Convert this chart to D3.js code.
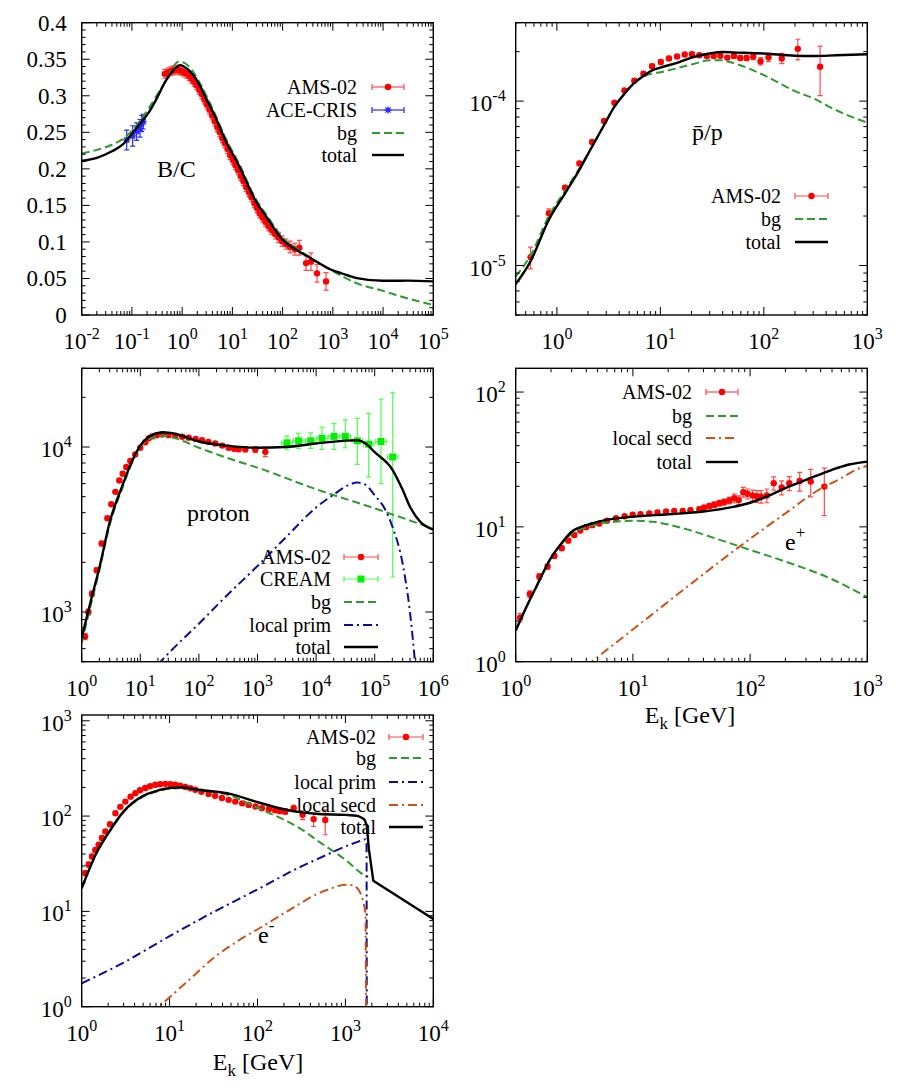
<!DOCTYPE html>
<html><head><meta charset="utf-8">
<script src="https://cdn.jsdelivr.net/npm/d3@7"></script>
<style>body{margin:0;background:#fff}text{font-family:"Liberation Serif","Times New Roman",Times,serif;fill:#000}</style>
</head><body><script>
// ---------------- DATA ----------------
// Panel 1: B/C
const bcXTicks = [1e-2,1e-1,1,10,100,1e3,1e4,1e5];
const bcYTicks = [0,0.05,0.1,0.15,0.2,0.25,0.3,0.35,0.4];
const bcYLabels = ["0","0.05","0.1","0.15","0.2","0.25","0.3","0.35","0.4"];
const bcAms = [[0.45,.330,.006],[0.52,.332,.006],[0.6,.334,.006],[0.68,.335,.006],[0.77,.336,.006],[0.87,.335,.006],[0.98,.334,.006],[1.1,.332,.006],[1.23,.330,.006],[1.38,.327,.006],[1.55,.323,.006],[1.74,.319,.006],[1.95,.314,.006],[2.2,.308,.006],[2.47,.302,.006],[2.77,.295,.006],[3.1,.288,.006],[3.5,.281,.006],[3.95,.273,.006],[4.45,.265,.006],[5.0,.257,.006],[5.6,.25,.006],[6.3,.242,.006],[7.1,.235,.006],[8.0,.227,.006],[9.0,.219,.006],[10.2,.212,.006],[11.5,.205,.006],[13,.198,.006],[14.7,.19,.006],[16.6,.183,.006],[18.8,.175,.006],[21.3,.168,.006],[24,.161,.006],[27.5,.153,.006],[31,.146,.006],[35,.139,.006],[40,.133,.006],[46,.127,.006],[53,.121,.006],[61,.116,.006],[71,.111,.007],[83,.106,.007],[98,.101,.007],[117,.097,.007],[141,.093,.008],[175,.09,.008],[215,.092,.01],[293,.071,.01],[367,.073,.012],[484,.057,.012],[733,.046,.012]];
const bcAce = [[0.0787,.2395,.0135],[0.1035,.245,.014],[0.124,.251,.012],[0.145,.2555,.012],[0.156,.262,.011],[0.168,.2645,.01]];
const bcBg = [[0.01,.221],[0.02,.226],[0.04,.233],[0.064,.2404],[0.117,.2577],[0.216,.283],[0.46,.319],[0.85,.3466],[1.1,.345],[1.57,.335],[2.48,.312],[4.57,.274],[7.2,.243],[13.4,.208],[28.6,.16],[50,.135],[97,.107],[200,.09],[300,.082],[500,.072],[1000,.06],[3000,.0434],[1e4,.033],[3e4,.023],[1e5,.0137]];
const bcTotal = [[0.01,.2107],[0.02,.215],[0.04,.224],[0.065,.233],[0.1,.248],[0.15,.263],[0.22,.278],[0.3,.294],[0.45,.318],[0.65,.334],[0.92,.342],[1.3,.336],[2.13,.317],[3,.296],[4.57,.271],[7.2,.2395],[13.4,.205],[28.6,.157],[50,.132],[97,.104],[200,.088],[300,.081],[500,.072],[1000,.061],[1500,.057],[3000,.0505],[1e4,.0468],[3e4,.047],[1e5,.046]];

// Panel 2: pbar/p
const pbXTicks = [1,10,100,1000];
const pbYTicks = [1e-5,1e-4];
const pbAms = [[0.556,1.125e-5,0.17e-5],[0.837,2.08e-5,0.13e-5],[1.2,2.97e-5,0.1e-5],[1.65,4.18e-5,0.12e-5],[2.19,5.65e-5,0.15e-5],[2.86,7.57e-5,0.2e-5],[3.6,9.78e-5,0.25e-5],[4.5,1.16e-4,0.3e-5],[5.61,1.33e-4,0.35e-5],[6.86,1.47e-4,0.4e-5],[8.32,1.63e-4,0.5e-5],[10.1,1.73e-4,0.5e-5],[12.1,1.82e-4,0.5e-5],[14.5,1.87e-4,0.5e-5],[17.2,1.92e-4,0.5e-5],[20.2,1.93e-4,0.5e-5],[23.8,1.90e-4,0.5e-5],[28.1,1.88e-4,0.5e-5],[32.8,1.88e-4,0.5e-5],[38,1.89e-4,0.5e-5],[44.4,1.84e-4,0.5e-5],[51.4,1.88e-4,0.6e-5],[59.2,1.83e-4,0.6e-5],[68.2,1.83e-4,0.7e-5],[79,1.87e-4,0.8e-5],[93,1.75e-4,0.9e-5],[111,1.85e-4,1.1e-5],[149,1.82e-4,1.3e-5],[213,2.08e-4,3e-5],[350,1.62e-4,5.4e-5]];
const pbBg = [[0.4,8.6e-6],[0.556,1.15e-5],[0.837,2.0e-5],[1.2,2.85e-5],[1.65,3.9e-5],[2.19,5.3e-5],[2.86,7.16e-5],[3.6,9.25e-5],[4.5,1.11e-4],[5.6,1.29e-4],[6.86,1.41e-4],[8.3,1.47e-4],[10,1.5e-4],[20,1.67e-4],[30,1.77e-4],[40,1.77e-4],[50,1.71e-4],[100,1.44e-4],[200,1.15e-4],[300,1.04e-4],[500,8.8e-5],[1000,7.39e-5]];
const pbTotal = [[0.4,7.7e-6],[0.556,1.06e-5],[0.837,1.9e-5],[1.2,2.75e-5],[1.65,3.82e-5],[2.19,5.3e-5],[2.86,7.16e-5],[3.6,9.25e-5],[4.5,1.11e-4],[5.6,1.29e-4],[6.86,1.42e-4],[8.3,1.54e-4],[10,1.6e-4],[15,1.72e-4],[20,1.84e-4],[30,1.95e-4],[40,1.99e-4],[50,1.98e-4],[100,1.95e-4],[200,1.89e-4],[300,1.88e-4],[500,1.9e-4],[1000,1.93e-4]];

// Panel 3: proton
const prXTicks = [1,10,100,1e3,1e4,1e5,1e6];
const prYTicks = [1e3,1e4];
const prAms = [[1.14,711,30],[1.3,1000,40],[1.5,1290,50],[1.8,1790,60],[2.19,2600,80],[2.74,3700,100],[3.2,4500,110],[3.75,5350,120],[4.38,6270,130],[5.0,6880,140],[5.77,7560,150],[6.76,8220,160],[8.2,9020,170],[10,9900,180],[12.2,10700,180],[14,11300,180],[16,11600,180],[19,11800,180],[23.5,11900,180],[30,11800,180],[39.6,11700,180],[52,11550,180],[67,11400,180],[88,11200,180],[113,11000,180],[145,10750,180],[190,10500,200],[250,10200,220],[322,9900,250],[400,9750,280],[477,9700,300],[620,9700,350],[917,9670,400],[1360,9350,600]];
const prCream = [[3180,10600,9700,11700],[5040,10900,9800,12100],[8090,10900,9800,12200],[12600,11300,9670,13200],[20200,11600,9670,13900],[31500,11600,9900,14600],[50500,10900,7850,14900],[79000,10400,6600,16000],[128000,10800,6000,19500],[203000,8700,1630,21300]];
const prCreamXerr = 0.09; // half-width of CREAM energy bins in log10
const prBg = [[1,650],[1.5,1180],[2,1780],[3,3350],[5,5700],[7,7800],[10,10000],[15,11300],[25,11700],[40,11300],[100,9900],[300,8600],[1000,7500],[1e4,5550],[1e5,4250],[1e6,3200]];
const prPrim = [[20,480],[30,560],[100,850],[300,1260],[1000,1900],[3000,2820],[1e4,4300],[2e4,5150],[3.5e4,5850],[5e4,6100],[7e4,5900],[1e5,5100],[1.5e5,4200],[2e5,3300],[3e5,1960],[4e5,1000],[5e5,450]];
const prTotal = [[1,700],[1.5,1250],[2,1850],[3,3500],[5,5900],[7,8000],[10,10200],[15,11700],[25,12300],[40,12000],[100,10800],[300,10200],[1000,9900],[3000,10000],[1e4,10500],[3e4,10900],[5e4,11000],[7e4,10500],[1e5,9300],[2e5,7300],[3e5,5500],[4e5,4350],[6e5,3520],[1e6,3160]];

// Panel 4: positron
const epXTicks = [1,10,100,1000];
const epYTicks = [1,10,100];
const epAms = [[1.09,2.12,0.15],[1.32,3.18,0.18],[1.59,4.28,0.2],[1.87,5.08,0.22],[2.14,6.09,0.25],[2.47,6.95,0.27],[2.81,7.91,0.3],[3.16,8.72,0.3],[3.56,9.38,0.3],[3.98,9.95,0.3],[4.5,10.3,0.3],[5.17,10.6,0.3],[6.0,11.1,0.3],[7.18,11.6,0.3],[8.5,12.0,0.3],[9.95,12.3,0.3],[11.6,12.4,0.3],[13.8,12.6,0.3],[16.2,12.8,0.35],[19.2,13.0,0.4],[22.5,13.1,0.4],[26.6,13.1,0.45],[31,13.3,0.5],[36.9,13.5,0.55],[40.5,13.9,0.6],[44.9,14.3,0.65],[49.5,14.6,0.7],[54.6,15.0,0.75],[60,15.3,0.8],[66.5,15.7,0.9],[73.3,16.3,1.2],[80,15.8,1.2],[87.5,18.1,1.5],[95,17.6,1.5],[105,17.1,1.6],[114,16.9,1.7],[124,16.8,1.8],[139,17.1,2.0],[159,21.1,2.4],[186,19.6,2.3],[216,21.1,2.5],[265,21.9,3.5],[329,21.7,5],[430,19.9,12.1,27.3]];
const epBg = [[1,1.7],[1.2,2.42],[1.5,3.6],[2,5.9],[2.5,7.6],[3,8.9],[4,9.9],[5,10.5],[7,10.9],[10,11.1],[15,10.9],[20,10.4],[30,9.5],[50,8.24],[100,6.75],[200,5.53],[500,4.09],[1000,3.0]];
const epSecd = [[4,0.93],[4.45,1.0],[13.8,2.16],[34.5,4.04],[86.5,7.44],[200,12.6],[365,18.3],[600,23],[800,26.5],[1000,28.4]];
const epTotal = [[1,1.7],[1.2,2.42],[1.5,3.6],[2,5.9],[2.5,7.7],[3,9.2],[4,10.3],[5,10.9],[7,11.5],[10,11.9],[20,12.4],[40,13.0],[70,14.0],[100,15.1],[150,17.3],[200,19.4],[300,22.3],[500,26.5],[700,29],[1000,30.5]];

// Panel 5: electron
const emXTicks = [1,10,100,1000,10000];
const emYTicks = [1,10,100,1000];
const emAms = [[1.1,25.2,1.5],[1.2,31,1.8],[1.31,37.7,2],[1.43,44,2.2],[1.56,50,2.5],[1.7,59,2.8],[1.86,68.9,3],[2.1,82,3.5],[2.42,107,4],[2.75,125,4.5],[3.14,142,5],[3.6,160,5],[4.08,174,5],[4.6,187,5],[5.29,197,5],[6,206,5],[6.88,213,5],[7.8,216,5],[8.94,218,5],[10.2,216,5],[11.6,213,5],[13.2,208,5],[15.1,202,5],[17.2,196,5],[19.6,189,5],[23,180,5],[27.8,171,5],[33,163,5],[39.4,155,5],[47,148,5],[55.9,142,5],[67,136,5],[79.4,131,5],[95,126,5],[112,121,5],[135,118,6],[159,115,6],[180,113,7],[207,112,8],[258,121,9],[326,103,11],[435,93,77.8,107],[590,91,63.7,116]];
const emBg = [[1,17.5],[1.5,42],[2,65],[3,110],[5,160],[7,180],[10,193],[14,197],[20,188],[50,163],[100,122],[200,91.4],[300,74.8],[500,54],[1000,34.8],[1700,23.6],[1820,23]];
const emPrim = [[1,1.76],[3,2.9],[10,5.5],[30,9.6],[100,17],[300,29],[500,36],[1000,48],[1400,54],[1600,56.4],[1700,57],[1740,50],[1750,0.5]];
const emSecd = [[6,0.85],[7.5,1.0],[15,1.75],[33,3.35],[60,4.9],[112,6.9],[250,10.8],[455,14.9],[700,17.5],[1000,19],[1200,18.8],[1400,17],[1600,12.5],[1690,9.5],[1720,0.5]];
const emTotal = [[1,17.5],[1.5,42.5],[2,66],[3,112],[5,163],[7,183],[10,197],[14,200],[20,190],[50,170],[100,140],[200,118],[300,110],[500,105],[1000,103],[1400,100],[1650,92],[1750,80],[1850,45],[2076,21],[10000,8.3]];
const emTotalKinkE = 1650; // beyond this energy the total is a sharp cut-off followed by a power law

// ---------------- STYLES ----------------
const RED = "#ff0000", REDBAR = "#ff4a4a";
const BLUE = "#2a2aff", GREEN_PT = "#00f000", GREEN_BAR = "#4cff4c";
const BG = "#2f9a2f", PRIM = "#0c0c96", SECD = "#c85418";
const DASH_BG = "8,4", DASH_DD = "9,4,2,4";
const FONT = '"Liberation Serif","Times New Roman",Times,serif';

const svg = d3.select("body").append("svg").attr("width", 902).attr("height", 1090).attr("font-family", FONT);
const defs = svg.append("defs");

function expStr(v){ const e = Math.round(Math.log10(v)); return e < 0 ? "-" + (-e) : String(e); }
function supText(sel, base, sup, size, rise){
  sel.append("tspan").text(base);
  sel.append("tspan").attr("font-size", size).attr("dy", -rise).text(sup);
}
function logTicks(d){
  const res = [];
  for (let k = Math.floor(Math.log10(d[0])); k <= Math.ceil(Math.log10(d[1])); k++)
    for (let m = 1; m <= 9; m++){ const v = m * Math.pow(10, k); if (v >= d[0]*0.999 && v <= d[1]*1.001) res.push({v, major: m === 1}); }
  return res;
}

function panel(o){
  const x = d3.scaleLog().domain(o.xd).range([o.l, o.r]);
  const y = (o.ylin ? d3.scaleLinear() : d3.scaleLog()).domain(o.yd).range([o.b, o.t]);
  const g = svg.append("g");
  const cid = "clip" + o.id;
  defs.append("clipPath").attr("id", cid).append("rect").attr("x", o.l).attr("y", o.t).attr("width", o.r - o.l).attr("height", o.b - o.t);
  const plot = g.append("g").attr("clip-path", `url(#${cid})`);
  const ax = g.append("g").attr("stroke", "#000").attr("stroke-width", 1);
  logTicks(o.xd).forEach(t => {
    const px = x(t.v), len = t.major ? 8 : 4;
    ax.append("line").attr("x1", px).attr("x2", px).attr("y1", o.b).attr("y2", o.b - len);
    ax.append("line").attr("x1", px).attr("x2", px).attr("y1", o.t).attr("y2", o.t + len);
  });
  const yt = o.ylin ? d3.range(0, 41).map(i => ({v: i * 0.01, major: i % 5 === 0})) : logTicks(o.yd);
  yt.forEach(t => {
    const py = y(t.v), len = t.major ? 8 : 4;
    ax.append("line").attr("y1", py).attr("y2", py).attr("x1", o.l).attr("x2", o.l + len);
    ax.append("line").attr("y1", py).attr("y2", py).attr("x1", o.r).attr("x2", o.r - len);
  });
  g.append("rect").attr("x", o.l).attr("y", o.t).attr("width", o.r - o.l).attr("height", o.b - o.t)
    .attr("fill", "none").attr("stroke", "#000").attr("stroke-width", 1.4);
  o.xTicks.forEach(v => {
    const t = g.append("text").attr("x", x(v)).attr("y", o.b + 34).attr("text-anchor", "middle").attr("font-size", 23);
    supText(t, "10", expStr(v), 16, 10);
  });
  o.yTicks.forEach((v, i) => {
    if (o.ylin){
      g.append("text").attr("x", o.l - 15).attr("y", y(v) + 8).attr("text-anchor", "end").attr("font-size", 23).text(o.yLabels[i]);
    } else {
      const t = g.append("text").attr("x", o.l - 10).attr("y", y(v) + 10).attr("text-anchor", "end").attr("font-size", 23);
      supText(t, "10", expStr(v), 16, 10);
    }
  });
  return {x, y, g, plot, o};
}

function curve(p, data, color, dash, w, linearFrom){
  const mk = (pts, c) => p.plot.append("path").datum(pts)
    .attr("d", d3.line().x(d => p.x(d[0])).y(d => p.y(d[1])).curve(c))
    .attr("fill", "none").attr("stroke", color).attr("stroke-width", w || 2)
    .attr("stroke-dasharray", dash || null).attr("stroke-linejoin", "round");
  if (linearFrom){
    mk(data.filter(d => d[0] <= linearFrom), d3.curveMonotoneX);
    mk(data.filter(d => d[0] >= linearFrom), d3.curveLinear);
  } else mk(data, d3.curveMonotoneX);
}

function marker(g, cx, cy, shape, color){
  if (shape === "circle") g.append("circle").attr("cx", cx).attr("cy", cy).attr("r", 3.2).attr("fill", color);
  else if (shape === "square") g.append("rect").attr("x", cx - 3.5).attr("y", cy - 3.5).attr("width", 7).attr("height", 7).attr("fill", color);
  else if (shape === "star") g.append("path").attr("transform", `translate(${cx},${cy})`)
    .attr("d", "M-3.5,0H3.5M0,-3.5V3.5M-2.6,-2.6L2.6,2.6M-2.6,2.6L2.6,-2.6").attr("stroke", color).attr("stroke-width", 1.3);
}

function points(p, data, st){
  const gb = p.plot.append("g").attr("stroke", st.bar).attr("stroke-width", 1.2);
  const gm = p.plot.append("g");
  data.forEach(d => {
    const cx = p.x(d[0]), cy = p.y(d[1]);
    const lo = d.length > 3 ? d[2] : d[1] - d[2];
    const hi = d.length > 3 ? d[3] : d[1] + d[2];
    const y1 = p.y(lo), y2 = p.y(hi);
    gb.append("line").attr("x1", cx).attr("x2", cx).attr("y1", y1).attr("y2", y2);
    gb.append("line").attr("x1", cx - 2.5).attr("x2", cx + 2.5).attr("y1", y1).attr("y2", y1);
    gb.append("line").attr("x1", cx - 2.5).attr("x2", cx + 2.5).attr("y1", y2).attr("y2", y2);
    if (st.xerr){
      const xa = p.x(d[0] / Math.pow(10, st.xerr)), xb = p.x(d[0] * Math.pow(10, st.xerr));
      gb.append("line").attr("x1", xa).attr("x2", xb).attr("y1", cy).attr("y2", cy);
      gb.append("line").attr("x1", xa).attr("x2", xa).attr("y1", cy - 2.5).attr("y2", cy + 2.5);
      gb.append("line").attr("x1", xb).attr("x2", xb).attr("y1", cy - 2.5).attr("y2", cy + 2.5);
    }
    marker(gm, cx, cy, st.shape, st.color);
  });
}

function legend(p, items, L){
  items.forEach((it, i) => {
    const yy = L.ys[i];
    p.g.append("text").attr("x", L.right).attr("y", yy + 7).attr("text-anchor", "end").attr("font-size", 20).text(it.label);
    if (it.pts){
      const g = p.g.append("g").attr("stroke", it.bar).attr("stroke-width", 1.2);
      g.append("line").attr("x1", L.x1).attr("x2", L.x2).attr("y1", yy).attr("y2", yy);
      g.append("line").attr("x1", L.x1).attr("x2", L.x1).attr("y1", yy - 3).attr("y2", yy + 3);
      g.append("line").attr("x1", L.x2).attr("x2", L.x2).attr("y1", yy - 3).attr("y2", yy + 3);
      marker(p.g, (L.x1 + L.x2) / 2, yy, it.shape, it.color);
    } else {
      p.g.append("line").attr("x1", L.x1).attr("x2", L.x2).attr("y1", yy).attr("y2", yy)
        .attr("stroke", it.color).attr("stroke-width", it.w || 2).attr("stroke-dasharray", it.dash || null);
    }
  });
}

function label(p, x, y, base, sup, size){
  const t = p.g.append("text").attr("x", x).attr("y", y).attr("font-size", size || 24);
  if (sup) supText(t, base, sup, 17, 12); else t.text(base);
}
function xTitle(p, cx, y){
  const t = p.g.append("text").attr("x", cx).attr("y", y).attr("text-anchor", "middle").attr("font-size", 24);
  t.append("tspan").text("E");
  t.append("tspan").attr("font-size", 17).attr("dy", 6).text("k");
  t.append("tspan").attr("dy", -6).text(" [GeV]");
}

const amsSt = {color: RED, bar: REDBAR, shape: "circle"};
const itAms = {label: "AMS-02", pts: true, color: RED, bar: REDBAR, shape: "circle"};
const itBg = {label: "bg", color: BG, dash: DASH_BG};
const itPrim = {label: "local prim", color: PRIM, dash: DASH_DD};
const itSecd = {label: "local secd", color: SECD, dash: DASH_DD};
const itTot = {label: "total", color: "#000", w: 2.4};

// Panel 1
const P1 = panel({id: 1, l: 81.7, r: 433.3, t: 22.7, b: 315, xd: [1e-2, 1e5], yd: [0, 0.4], ylin: true, xTicks: bcXTicks, yTicks: bcYTicks, yLabels: bcYLabels});
points(P1, bcAms, amsSt);
points(P1, bcAce, {color: BLUE, bar: BLUE, shape: "star", xerr: 0.03});
curve(P1, bcBg, BG, DASH_BG);
curve(P1, bcTotal, "#000", null, 2.4);
label(P1, 157, 177, "B/C");
legend(P1, [itAms, {label: "ACE-CRIS", pts: true, color: BLUE, bar: BLUE, shape: "star"}, itBg, itTot], {right: 357, x1: 372, x2: 404, ys: [87, 110, 133, 155]});

// Panel 2
const P2 = panel({id: 2, l: 515.7, r: 867.3, t: 22.7, b: 315, xd: [0.4, 1000], yd: [5e-6, 3e-4], xTicks: pbXTicks, yTicks: pbYTicks});
points(P2, pbAms, amsSt);
curve(P2, pbBg, BG, DASH_BG);
curve(P2, pbTotal, "#000", null, 2.4);
label(P2, 692, 140, "p\u0304/p");
legend(P2, [itAms, itBg, itTot], {right: 781, x1: 795, x2: 828, ys: [196, 219, 242]});

// Panel 3
const P3 = panel({id: 3, l: 81.7, r: 433.3, t: 368.3, b: 661.7, xd: [1, 1e6], yd: [500, 3e4], xTicks: prXTicks, yTicks: prYTicks});
points(P3, prAms, amsSt);
points(P3, prCream, {color: GREEN_PT, bar: GREEN_BAR, shape: "square", xerr: prCreamXerr});
curve(P3, prBg, BG, DASH_BG);
curve(P3, prPrim, PRIM, DASH_DD);
curve(P3, prTotal, "#000", null, 2.4);
label(P3, 187, 521, "proton");
legend(P3, [itAms, {label: "CREAM", pts: true, color: GREEN_PT, bar: GREEN_BAR, shape: "square"}, itBg, itPrim, itTot], {right: 331, x1: 344, x2: 378, ys: [557, 579, 602, 625, 647]});

// Panel 4
const P4 = panel({id: 4, l: 515.7, r: 867.3, t: 368.3, b: 661.7, xd: [1, 1000], yd: [1, 150], xTicks: epXTicks, yTicks: epYTicks});
points(P4, epAms, amsSt);
curve(P4, epBg, BG, DASH_BG);
curve(P4, epSecd, SECD, DASH_DD);
curve(P4, epTotal, "#000", null, 2.4);
label(P4, 785, 550, "e", "+");
xTitle(P4, 690, 723);
legend(P4, [itAms, itBg, itSecd, itTot], {right: 692, x1: 706, x2: 738, ys: [392, 416, 438, 462]});

// Panel 5
const P5 = panel({id: 5, l: 81.7, r: 433.3, t: 715, b: 1006.7, xd: [1, 1e4], yd: [1, 1150], xTicks: emXTicks, yTicks: emYTicks});
points(P5, emAms, amsSt);
curve(P5, emBg, BG, DASH_BG);
curve(P5, emPrim, PRIM, DASH_DD);
curve(P5, emSecd, SECD, DASH_DD);
curve(P5, emTotal, "#000", null, 2.4, emTotalKinkE);
label(P5, 258, 943, "e", "-");
xTitle(P5, 258, 1070);
legend(P5, [itAms, itBg, itPrim, itSecd, itTot], {right: 376, x1: 389, x2: 423, ys: [737, 758, 782, 805, 827]});
</script></body></html>
